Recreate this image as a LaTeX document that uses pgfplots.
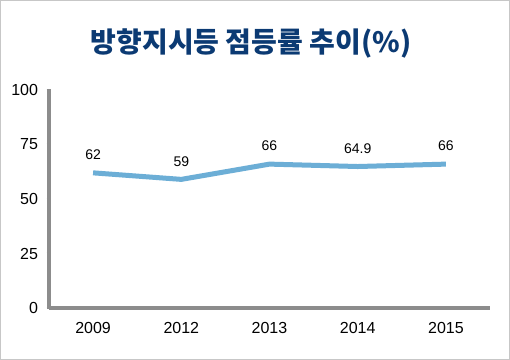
\documentclass[border=0pt]{standalone}
\usepackage{fontspec}
\setmainfont{Liberation Sans}
\newfontfamily\kr{Noto Sans CJK KR}
\usepackage{pgfplots}
\pgfplotsset{compat=1.18}
\definecolor{titleblue}{HTML}{0B3A73}
\definecolor{lineblue}{HTML}{6CAED6}
\definecolor{axgray}{HTML}{8C8C8C}
\begin{document}
\begin{tikzpicture}
\useasboundingbox (0,0) rectangle (510bp,360bp);
\fill[white] (0,0) rectangle (510bp,360bp);
\draw[line width=1bp, black!22] (0.5bp,0.5bp) rectangle (509.5bp,359.5bp);
\node[font=\kr\bfseries\fontsize{28bp}{30bp}\selectfont, text=titleblue] at (251bp,317bp) {방향지시등 점등률 추이(\%)};
\begin{axis}[
  at={(49bp,52bp)}, anchor=south west,
  scale only axis, width=441bp, height=218bp,
  xmin=-0.5, xmax=4.5, ymin=0, ymax=100,
  axis x line=bottom, axis y line=left,
  axis line style={-, axgray, line width=3bp},
  xtick={0,1,2,3,4},
  xticklabels={2009,2012,2013,2014,2015},
  ytick={0,25,50,75,100},
  x tick style={draw=none},
  y tick style={axgray, line width=2bp},
  tick align=center, major tick length=5bp,
  /pgf/number format/assume math mode=true,
  ticklabel style={font=\fontsize{16bp}{18bp}\selectfont, text=black},
  xticklabel style={yshift=-8bp},
  yticklabel style={xshift=-5bp},
  clip=false,
  nodes near coords,
  point meta=explicit symbolic,
  nodes near coords style={font=\fontsize{14bp}{16bp}\selectfont, text=black, anchor=center, yshift=18bp},
]
\addplot[lineblue, line width=5bp, mark=none] coordinates {
  (0,62) [62] (1,59) [59] (2,66) [66] (3,64.9) [64.9] (4,66) [66]
};
\end{axis}
\end{tikzpicture}
\end{document}
